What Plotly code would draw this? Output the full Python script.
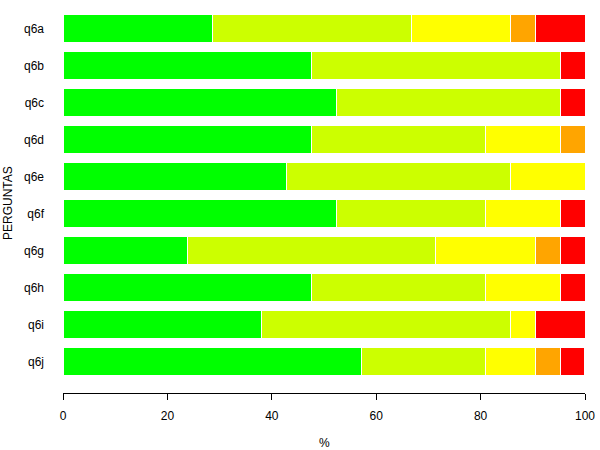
import plotly.graph_objects as go

categories = ["q6a", "q6b", "q6c", "q6d", "q6e", "q6f", "q6g", "q6h", "q6i", "q6j"]
s1 = [28.57, 47.62, 52.38, 47.62, 42.86, 52.38, 23.81, 47.62, 38.10, 57.14]
s2 = [38.10, 47.62, 42.86, 33.33, 42.86, 28.57, 47.62, 33.33, 47.62, 23.81]
s3 = [19.05, 0.0, 0.0, 14.29, 14.29, 14.29, 19.05, 14.29, 4.76, 9.52]
s4 = [4.76, 0.0, 0.0, 4.76, 0.0, 0.0, 4.76, 0.0, 0.0, 4.76]
s5 = [9.52, 4.76, 4.76, 0.0, 0.0, 4.76, 4.76, 4.76, 9.52, 4.76]
colors = ["#00FF00", "#CCFF00", "#FFFF00", "#FFA500", "#FF0000"]
series = [s1, s2, s3, s4, s5]

W, H = 600, 450
ML, MR, MT, MB = 63, 15, 10, 57

fig = go.Figure()
for vals, col in zip(series, colors):
    fig.add_trace(go.Bar(
        y=categories, x=vals, orientation="h",
        marker=dict(color=col, line=dict(color="white", width=1)),
        showlegend=False, hoverinfo="skip",
    ))

ph = H - MT - MB
pw = W - ML - MR
fig.update_layout(
    width=W, height=H,
    barmode="stack", bargap=0.24,
    plot_bgcolor="white", paper_bgcolor="white",
    margin=dict(l=ML, r=MR, t=MT, b=MB, autoexpand=False),
    font=dict(family="Liberation Sans, Arial, sans-serif", size=12, color="black"),
    xaxis=dict(range=[0, 100], tickvals=[0, 20, 40, 60, 80, 100],
               showline=True, linecolor="black", linewidth=1,
               ticks="outside", ticklen=6, tickcolor="black", automargin=False,
               showgrid=False, zeroline=False, ticklabelstandoff=6),
    yaxis=dict(categoryorder="array", categoryarray=categories, automargin=False,
               range=[9.85, -0.5], showgrid=False, zeroline=False,
               showline=False, ticks="", ticklabelstandoff=18),
    annotations=[
        dict(text="%", x=0.5, y=1 - (443 - MT) / ph, xref="paper", yref="paper",
             showarrow=False, yanchor="middle"),
        dict(text="PERGUNTAS", x=(8 - ML) / pw, y=1 - (203 - MT) / ph,
             xref="paper", yref="paper", xanchor="center", yanchor="middle",
             showarrow=False, textangle=-90),
    ],
)

fig.write_html("out.html")
